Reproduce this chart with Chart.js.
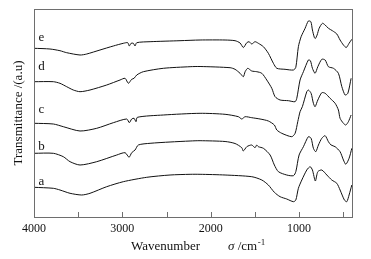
<!DOCTYPE html>
<html>
<head>
<meta charset="utf-8">
<script src="https://cdn.jsdelivr.net/npm/chart.js@4/dist/chart.umd.min.js"></script>
<style>
    body { margin: 0; background: #fff; }
</style>
</head>
<body>
<canvas id="EspectroChart" width="371" height="259"></canvas>
<script>
var ticksPrincipales = [4000, 3000, 2000, 1000];
var ticksMenores = [3500, 2500, 1500, 500];
var nombresCurvas = ['a', 'b', 'c', 'd', 'e'];

var wnA = [4000, 3781, 3706, 3592, 3460, 3366, 3177, 2989, 2724, 2460, 2233, 2120, 1837, 1535, 1421, 1347, 1279, 1214, 1139, 1063, 1036, 1007, 968, 912, 874, 848, 815, 787, 742, 685, 629, 572, 535, 486, 459, 433, 402];
var tA = [29.7, 28.7, 27, 23.7, 22, 23.7, 30.3, 35.3, 39.7, 42, 42.7, 42.7, 42, 40.3, 37, 32, 24.7, 20.3, 18, 15.3, 17, 28.7, 37, 47, 50.3, 47, 36, 45.3, 47, 42, 37, 33.7, 27, 17, 15.3, 22, 32];

var wnB = [4000, 3781, 3668, 3592, 3479, 3290, 3063, 2969, 2924, 2894, 2856, 2819, 2686, 2460, 2233, 2120, 1837, 1724, 1648, 1630, 1591, 1535, 1498, 1478, 1460, 1403, 1327, 1279, 1233, 1139, 1063, 1036, 999, 950, 894, 863, 837, 810, 780, 742, 704, 667, 637, 591, 535, 497, 470, 433, 402];
var tB = [63.7, 63.7, 60.3, 55.3, 52, 55.3, 62, 64.3, 59.7, 64.3, 67, 72, 73.7, 75, 76, 76.3, 75.5, 73.5, 69.3, 66, 70.3, 72, 69.3, 72, 70.3, 68.7, 62, 52, 45.3, 42, 41.3, 45.3, 62, 70.3, 80.3, 78.7, 68.7, 65.3, 72, 78.7, 81.3, 75.3, 72, 70.3, 65.3, 57, 52.7, 58.7, 68.7];

var wnC = [4000, 3781, 3668, 3479, 3290, 3102, 2950, 2921, 2894, 2867, 2845, 2830, 2536, 2120, 1837, 1686, 1648, 1610, 1535, 1441, 1347, 1279, 1251, 1195, 1082, 1044, 1014, 988, 962, 912, 894, 863, 837, 818, 787, 742, 704, 648, 591, 554, 535, 497, 470, 441, 410];
var tC = [93.7, 93, 90.3, 86, 88.7, 94.3, 98, 94.3, 98, 98.7, 95.3, 99.7, 102, 103.7, 102.7, 100.3, 98, 100.3, 99.3, 98, 96, 92, 87, 83.7, 80.3, 83.7, 95.3, 105.3, 110.3, 125.3, 127, 123.7, 113.7, 110.3, 117, 124.3, 123.7, 118.7, 113.7, 107, 98.7, 93.7, 92, 95.3, 102];

var wnD = [4000, 3781, 3706, 3630, 3555, 3479, 3366, 3177, 3026, 2969, 2932, 2894, 2867, 2837, 2762, 2536, 2233, 2120, 1780, 1724, 1667, 1630, 1610, 1580, 1535, 1478, 1421, 1365, 1308, 1271, 1214, 1120, 1044, 1025, 988, 950, 894, 871, 848, 818, 787, 742, 704, 667, 610, 554, 515, 478, 447, 410];
var tD = [135.3, 135.3, 133.7, 130.3, 127, 125.3, 127, 132, 137, 138.7, 133.7, 137.7, 138.7, 142, 145.3, 148.7, 150.3, 150.5, 149.3, 147.7, 143.7, 140.3, 145.3, 148.7, 146, 145.3, 143.7, 137, 128.7, 120.3, 117, 116.3, 115.3, 118.7, 137, 145.3, 157, 156.3, 148.7, 143.7, 150.3, 157.7, 157, 150.3, 148.7, 143.7, 130.3, 122, 123.7, 138.7];

var wnE = [4000, 3819, 3706, 3630, 3479, 3403, 3253, 3102, 2989, 2939, 2921, 2901, 2875, 2856, 2837, 2686, 2347, 2120, 1837, 1724, 1667, 1630, 1591, 1565, 1535, 1498, 1460, 1403, 1347, 1290, 1251, 1158, 1063, 1036, 1007, 976, 931, 894, 866, 848, 826, 815, 795, 772, 735, 704, 667, 622, 572, 535, 497, 465, 433, 402];
var tE = [168.7, 168, 166.3, 164.3, 162, 163, 167, 171, 173.7, 174.3, 171, 173.7, 173.7, 171, 174.3, 175.3, 176.3, 177, 177, 176.3, 174, 169.5, 174.3, 175.3, 173, 175.3, 173.7, 170.3, 163.7, 153.7, 148.7, 147.7, 147, 149.7, 170.3, 180.3, 188.7, 196, 195.3, 187, 179.5, 178.5, 182, 188.7, 193.7, 192, 188.7, 186.3, 183, 177, 172, 169.5, 173.7, 177.7];

var fuenteSerif = '"Liberation Serif", "Times New Roman", serif';

function puntos(wn, t) {
    return wn.map(function (w, i) { return { x: w, y: t[i] }; });
}

var curvas = [puntos(wnA, tA), puntos(wnB, tB), puntos(wnC, tC), puntos(wnD, tD), puntos(wnE, tE)];

//Marco, ticks hacia adentro, letras y titulo del eje x
var marcoPlugin = {
    id: 'marco',
    afterDraw: function (chart) {
        var ctx = chart.ctx;
        var area = chart.chartArea;
        var sx = chart.scales.x;
        var sy = chart.scales.y;
        ctx.save();
        ctx.strokeStyle = '#6e6e6e';
        ctx.lineWidth = 1;
        ctx.strokeRect(Math.round(area.left) + 0.5, Math.round(area.top) + 0.5,
            Math.round(area.right - area.left), Math.round(area.bottom - area.top));

        ticksPrincipales.concat(ticksMenores).forEach(function (v) {
            var px = Math.round(sx.getPixelForValue(v)) + 0.5;
            ctx.beginPath();
            ctx.moveTo(px, area.bottom);
            ctx.lineTo(px, area.bottom - 5);
            ctx.stroke();
        });

        // letras de cada curva
        var posLetras = [35.3, 70.3, 107, 150.3, 179.7];
        ctx.fillStyle = '#111';
        ctx.font = '13px ' + fuenteSerif;
        ctx.textAlign = 'center';
        ctx.textBaseline = 'middle';
        nombresCurvas.forEach(function (n, i) {
            ctx.fillText(n, sx.getPixelForValue(3915), sy.getPixelForValue(posLetras[i]));
        });

        // titulo eje x
        ctx.textAlign = 'left';
        ctx.textBaseline = 'alphabetic';
        ctx.fillText('Wavenumber', 131, 250);
        ctx.font = 'italic 13px ' + fuenteSerif;
        ctx.fillText('\u03C3', 228, 250);
        var wSigma = ctx.measureText('\u03C3').width;
        ctx.font = '13px ' + fuenteSerif;
        ctx.fillText(' /cm', 228 + wSigma, 250);
        var wCm = ctx.measureText(' /cm').width;
        ctx.font = '9px ' + fuenteSerif;
        ctx.fillText('-1', 228 + wSigma + wCm + 0.5, 245);
        ctx.restore();
    }
};

var cte = document.getElementById('EspectroChart').getContext('2d');

var espectroChart = new Chart(cte, {
    type: 'line',
    data: {
        datasets: curvas.map(function (c, i) {
            return {
                label: nombresCurvas[i],
                data: c,
                borderColor: '#111',
                borderWidth: 1,
                pointRadius: 0,
                fill: false,
                tension: 0.25
            };
        })
    },
    options: {
        responsive: false,
        animation: false,
        layout: {
            padding: { top: 9, right: 19, left: 0, bottom: 0 }
        },
        scales: {
            x: {
                type: 'linear',
                reverse: true,
                min: 400,
                max: 4000,
                grid: { display: false, drawTicks: false },
                border: { display: false },
                afterBuildTicks: function (scale) {
                    scale.ticks = ticksPrincipales.map(function (v) { return { value: v }; });
                },
                afterFit: function (scale) { scale.height = 42; },
                ticks: {
                    autoSkip: false,
                    maxRotation: 0,
                    padding: 5,
                    color: '#111',
                    font: { family: fuenteSerif, size: 12 },
                    callback: function (v) { return String(v); }
                }
            },
            y: {
                min: 0,
                max: 208,
                grid: { display: false, drawTicks: false },
                border: { display: false },
                ticks: { display: false },
                afterFit: function (scale) { scale.width = 34; },
                title: {
                    display: true,
                    text: 'Transmittance /(a.u)',
                    color: '#111',
                    padding: { top: 11, bottom: 0 },
                    font: { family: fuenteSerif, size: 13 }
                }
            }
        },
        plugins: {
            legend: { display: false },
            tooltip: { enabled: false }
        }
    },
    plugins: [marcoPlugin]
});
</script>
</body>
</html>
